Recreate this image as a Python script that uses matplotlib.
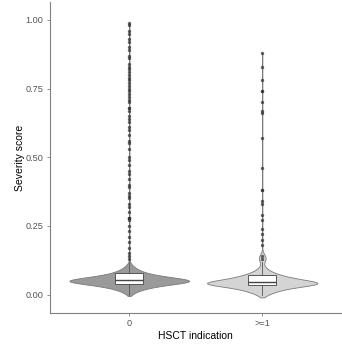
import numpy as np
import matplotlib
matplotlib.use("Agg")
import matplotlib.pyplot as plt

# ---------------- data ----------------
categories = ["0", ">=1"]

# bulk of group "0" as value / count table
g0_values = [-0.005, 0.000, 0.005, 0.010, 0.015, 0.020, 0.025, 0.030, 0.035, 0.040,
             0.045, 0.050, 0.055, 0.060, 0.065, 0.070, 0.075, 0.080, 0.085, 0.090,
             0.095, 0.100, 0.105, 0.110, 0.115, 0.120]
g0_counts = [8, 20, 35, 55, 80, 115, 160, 215, 290, 380,
             490, 560, 480, 380, 290, 220, 165, 125, 95, 72,
             54, 40, 28, 17, 9, 4]
g0_outliers = [0.99, 0.98, 0.96, 0.95, 0.93, 0.92, 0.90, 0.89, 0.87, 0.86, 0.84, 0.83,
               0.82, 0.81, 0.80, 0.79, 0.78, 0.77, 0.76, 0.75, 0.74, 0.73, 0.72, 0.71,
               0.70, 0.68, 0.68, 0.67, 0.65, 0.64, 0.63, 0.61, 0.60, 0.58, 0.56, 0.55,
               0.53, 0.50, 0.49, 0.47, 0.45, 0.44, 0.42, 0.40, 0.39, 0.37, 0.36, 0.35,
               0.33, 0.32, 0.30, 0.28, 0.28, 0.28, 0.27, 0.25, 0.23, 0.21, 0.19, 0.17,
               0.15, 0.14, 0.13]

# bulk of group ">=1"
g1_values = [-0.010, -0.005, 0.000, 0.005, 0.010, 0.015, 0.020, 0.025, 0.030, 0.035,
             0.040, 0.045, 0.050, 0.055, 0.060, 0.065, 0.070, 0.075, 0.080, 0.085,
             0.090, 0.095, 0.100, 0.105, 0.110, 0.115, 0.120, 0.125, 0.130, 0.135,
             0.140, 0.145, 0.150, 0.155, 0.160]
g1_counts = [6, 14, 25, 40, 56, 75, 100, 130, 170, 230,
             290, 255, 210, 170, 135, 108, 86, 66, 50, 37,
             27, 19, 13, 8, 6, 7, 10, 14, 16, 16,
             14, 10, 6, 3, 1]
g1_outliers = [0.88, 0.83, 0.78, 0.74, 0.74, 0.70, 0.67, 0.66, 0.57, 0.46, 0.38, 0.38,
               0.34, 0.33, 0.29, 0.27, 0.24, 0.22, 0.20, 0.18, 0.14, 0.13]

# box statistics
box_q1 = [0.037, 0.034]
box_med = [0.054, 0.045]
box_q3 = [0.077, 0.070]
box_whislo = [0.000, 0.000]
box_whishi = [0.120, 0.120]

y_ticks = [0.00, 0.25, 0.50, 0.75, 1.00]

# ---------------- style ----------------
plt.rcParams['font.family'] = ['Liberation Sans', 'DejaVu Sans']
fills = ["#9a9a9a", "#d4d4d4"]
edge = "#7a7a7a"
violin_widths = [0.90, 0.83]
bandwidth = 0.0075

fig = plt.figure(figsize=(3.42, 3.45), dpi=100)
ax = fig.add_axes([49.5 / 342, 32 / 345, 1 - 49.5 / 342, 1 - 32 / 345 - 2 / 345])

data = [np.concatenate([np.repeat(g0_values, g0_counts), g0_outliers]),
        np.concatenate([np.repeat(g1_values, g1_counts), g1_outliers])]
positions = [1, 2]

for i, d in enumerate(data):
    sd = np.std(d)
    parts = ax.violinplot([d], positions=[positions[i]], widths=violin_widths[i],
                          showextrema=False, points=1500,
                          bw_method=lambda k, s=sd: bandwidth / s)
    for b in parts['bodies']:
        b.set_facecolor(fills[i])
        b.set_edgecolor(edge)
        b.set_linewidth(0.6)
        b.set_alpha(1)
        b.set_zorder(1)

stats = []
for i in range(2):
    stats.append(dict(q1=box_q1[i], med=box_med[i], q3=box_q3[i],
                      whislo=box_whislo[i], whishi=box_whishi[i], fliers=[]))
ax.bxp(stats, positions=positions, widths=0.21, patch_artist=True, showfliers=False,
       showcaps=False,
       boxprops=dict(facecolor="white", edgecolor="#555555", linewidth=0.7),
       medianprops=dict(color="#444444", linewidth=1.0),
       whiskerprops=dict(color="#555555", linewidth=0.6), zorder=2)

ax.scatter(np.full(len(g0_outliers), positions[0]), g0_outliers, s=6, color="#333333",
           alpha=0.75, linewidths=0, zorder=3)
ax.scatter(np.full(len(g1_outliers), positions[1]), g1_outliers, s=6, color="#333333",
           alpha=0.75, linewidths=0, zorder=3)

ax.set_xlim(0.4, 2.6)
ax.set_ylim(-0.067, 1.065)
ax.set_xticks(positions)
ax.set_xticklabels(categories)
ax.set_yticks(y_ticks)
ax.set_yticklabels([f"{t:.2f}" for t in y_ticks])

for s in ["top", "right"]:
    ax.spines[s].set_visible(False)
for s in ["left", "bottom"]:
    ax.spines[s].set_color("#808080")
    ax.spines[s].set_linewidth(0.8)
ax.tick_params(axis="both", colors="#808080", length=2.5, width=0.6, labelsize=6.6,
               labelcolor="#555555", pad=2)
ax.set_xlabel("HSCT indication", fontsize=7.5, color="black", labelpad=2)
ax.set_ylabel("Severity score", fontsize=7.5, color="black", labelpad=0.5)

fig.savefig("out.png", dpi=100)
